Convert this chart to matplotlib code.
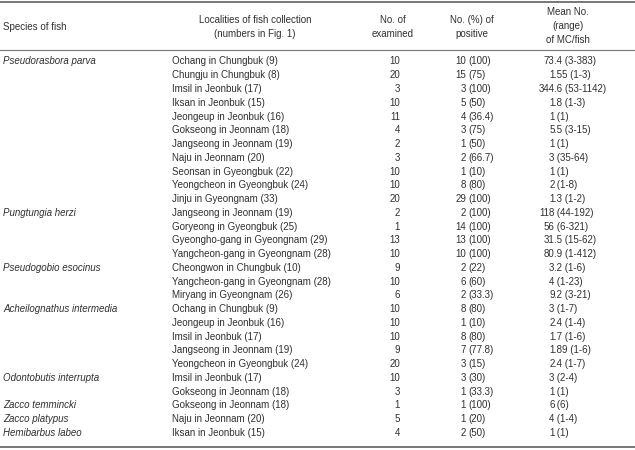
import matplotlib
matplotlib.use("Agg")
import matplotlib.pyplot as plt

species = ["Pseudorasbora parva", "", "", "", "", "", "", "", "", "", "",
           "Pungtungia herzi", "", "", "",
           "Pseudogobio esocinus", "", "",
           "Acheilognathus intermedia", "", "", "", "",
           "Odontobutis interrupta", "",
           "Zacco temmincki", "Zacco platypus", "Hemibarbus labeo"]
localities = ["Ochang in Chungbuk (9)", "Chungju in Chungbuk (8)", "Imsil in Jeonbuk (17)",
              "Iksan in Jeonbuk (15)", "Jeongeup in Jeonbuk (16)", "Gokseong in Jeonnam (18)",
              "Jangseong in Jeonnam (19)", "Naju in Jeonnam (20)", "Seonsan in Gyeongbuk (22)",
              "Yeongcheon in Gyeongbuk (24)", "Jinju in Gyeongnam (33)",
              "Jangseong in Jeonnam (19)", "Goryeong in Gyeongbuk (25)",
              "Gyeongho-gang in Gyeongnam (29)", "Yangcheon-gang in Gyeongnam (28)",
              "Cheongwon in Chungbuk (10)", "Yangcheon-gang in Gyeongnam (28)",
              "Miryang in Gyeongnam (26)",
              "Ochang in Chungbuk (9)", "Jeongeup in Jeonbuk (16)", "Imsil in Jeonbuk (17)",
              "Jangseong in Jeonnam (19)", "Yeongcheon in Gyeongbuk (24)",
              "Imsil in Jeonbuk (17)", "Gokseong in Jeonnam (18)",
              "Gokseong in Jeonnam (18)", "Naju in Jeonnam (20)", "Iksan in Jeonbuk (15)"]
examined = [10, 20, 3, 10, 11, 4, 2, 3, 10, 10, 20,
            2, 1, 13, 10,
            9, 10, 6,
            10, 10, 10, 9, 20,
            10, 3,
            1, 5, 4]
positive = [10, 15, 3, 5, 4, 3, 1, 2, 1, 8, 29,
            2, 14, 13, 10,
            2, 6, 2,
            8, 1, 8, 7, 3,
            3, 1,
            1, 1, 2]
percent = ["100", "75", "100", "50", "36.4", "75", "50", "66.7", "10", "80", "100",
           "100", "100", "100", "100",
           "22", "60", "33.3",
           "80", "10", "80", "77.8", "15",
           "30", "33.3",
           "100", "20", "50"]
mean_mc = ["73.4", "1.55", "344.6", "1.8", "1", "5.5", "1", "3", "1", "2", "1.3",
           "118", "56", "31.5", "80.9",
           "3.2", "4", "9.2",
           "3", "2.4", "1.7", "1.89", "2.4",
           "3", "1",
           "6", "4", "1"]
range_mc = ["3-383", "1-3", "53-1142", "1-3", "1", "3-15", "1", "35-64", "1", "1-8", "1-2",
            "44-192", "6-321", "15-62", "1-412",
            "1-6", "1-23", "3-21",
            "1-7", "1-4", "1-6", "1-6", "1-7",
            "2-4", "1",
            "6", "1-4", "1"]
headers = ["Species of fish",
           "Localities of fish collection\n(numbers in Fig. 1)",
           "No. of\nexamined",
           "No. (%) of\npositive",
           "Mean No.\n(range)\nof MC/fish"]

plt.rcParams['font.family'] = ['Liberation Sans', 'DejaVu Sans']
FS = 7.0
TC = '#303030'

fig = plt.figure(figsize=(6.35, 4.5), dpi=100)
ax = fig.add_axes([0, 0, 1, 1])
ax.set_xlim(0, 635)
ax.set_ylim(450, 0)
ax.axis('off')

# rules
ax.plot([0, 635], [1.5, 1.5], color='#777777', lw=1.4)
ax.plot([0, 635], [50, 50], color='#777777', lw=0.8)
ax.plot([0, 635], [447, 447], color='#777777', lw=1.4)

# header
kw = dict(va='center', fontsize=FS, color=TC, linespacing=1.45, multialignment='center')
ax.text(3, 27, headers[0], ha='left', **kw)
ax.text(255, 27, headers[1], ha='center', **kw)
ax.text(393, 27, headers[2], ha='center', **kw)
ax.text(472, 27, headers[3], ha='center', **kw)
ax.text(568, 26, headers[4], ha='center', **kw)

y0 = 61.5
dy = 13.76
for i in range(len(localities)):
    y = y0 + i * dy
    if species[i]:
        ax.text(3, y, species[i], ha='left', va='center', fontsize=FS, color=TC, style='italic')
    ax.text(172, y, localities[i], ha='left', va='center', fontsize=FS, color=TC)
    ax.text(400, y, str(examined[i]), ha='right', va='center', fontsize=FS, color=TC)
    ax.text(466, y, str(positive[i]), ha='right', va='center', fontsize=FS, color=TC)
    ax.text(468.5, y, "(" + percent[i] + ")", ha='left', va='center', fontsize=FS, color=TC)
    m = mean_mc[i]
    if '.' in m:
        ip, fp = m.split('.')
        rest = '.' + fp + ' (' + range_mc[i] + ')'
    else:
        ip = m
        rest = ' (' + range_mc[i] + ')'
    ax.text(554.5, y, ip, ha='right', va='center', fontsize=FS, color=TC)
    ax.text(554.5, y, rest, ha='left', va='center', fontsize=FS, color=TC)

fig.savefig('out.png', dpi=100)
